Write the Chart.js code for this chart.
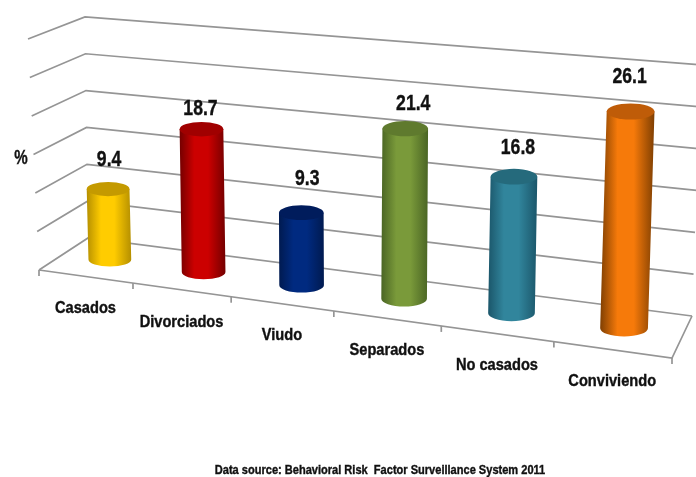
<!DOCTYPE html>
<html>
<head>
<meta charset="utf-8">
<title>Chart</title>
<script src="https://cdn.jsdelivr.net/npm/chart.js@4"></script>
<style>
  html, body { margin: 0; padding: 0; background: #fff; }
  canvas { display: block; }
</style>
</head>
<body>
<canvas id="chart" width="696" height="477"></canvas>
<script>
const categories = ["Casados", "Divorciados", "Viudo", "Separados", "No casados", "Conviviendo"];
const values = [9.4, 18.7, 9.3, 21.4, 16.8, 26.1];
const barColors = ["#ffcc00", "#cc0000", "#002a80", "#7a9a3a", "#31859c", "#f67a0a"];
const barEdges = ["#b58f00", "#740000", "#001a50", "#4a6524", "#1b566a", "#7f3f02"];
const barCaps = ["#c49a00", "#a00000", "#001c5c", "#5f7a2e", "#256a7c", "#bf5c08"];
const axisTitle = "%";
const sourceText = "Data source: Behavioral Risk  Factor Surveillance System 2011";

const gridColor = "#959595";
const textColor = "#111";
const blur = "blur(0.5px)";
const fontName = "'Liberation Sans', sans-serif";

// hand placed value labels, [dx, dy] from the top of the bar
const labelNudge = [[1, -29], [-1, -20], [6, -34], [8, -25], [4, -29], [-1, -35]];

// the fake 3D box: u across, d = 1 front of floor, d = 0 back wall
function persp(u) {
    return u / (u + 1.147 * (1 - u));
}

function project(u, d, value) {
    const p = persp(u);
    const baseX = (88 + 604 * p) * (1 - d) + (39 + 633 * p) * d;
    const baseY = (238 + 78 * p) * (1 - d) + (270 + 88 * p) * d;
    const rise = value * (7.37 + 1.0 * p + 0.33 * d);
    const lean = -0.0136 + 0.05 * p - 0.034 * d * (1 - p);
    return { x: baseX + lean * rise, y: baseY - rise, p: p };
}

function line(ctx, pts) {
    ctx.beginPath();
    pts.forEach((pt, i) => i ? ctx.lineTo(pt.x, pt.y) : ctx.moveTo(pt.x, pt.y));
    ctx.stroke();
}

// no narrow bold font here, so squeeze the normal one sideways
function narrowText(ctx, text, x, y, squeeze) {
    const w = ctx.measureText(text).width * squeeze;
    ctx.fillText(text, x, y, w);
    ctx.strokeText(text, x, y, w);
}

function drawWalls(chart) {
    const ctx = chart.ctx;
    const yScale = chart.scales.y;
    ctx.save();
    ctx.filter = blur;
    ctx.strokeStyle = gridColor;
    ctx.lineWidth = 1.7;

    yScale.ticks.forEach(t => {
        line(ctx, [project(0, 1, t.value), project(0, 0, t.value), project(1, 0, t.value)]);
    });

    // floor edges and tick marks
    line(ctx, [project(0, 1, 0), project(1, 1, 0), project(1, 0, 0)]);
    const n = categories.length;
    for (let i = 0; i <= n; i++) {
        const pt = project(i / n, 1, 0);
        line(ctx, [pt, { x: pt.x, y: pt.y + 6 }]);
    }
    ctx.restore();
}

function drawCylinder(chart, bar, i) {
    const ctx = chart.ctx;
    const area = chart.chartArea;
    const yScale = chart.scales.y;
    const u = (bar.x - area.left) / (area.right - area.left);
    const d = 0.48;
    const value = yScale.getValueForPixel(bar.y);
    const bottom = project(u, d, 0);
    const top = project(u, d, value * 0.985);
    const half = bar.width / 2 * (0.955 + 0.136 * bottom.p);
    const ry = 7 + 1.2 * bottom.p;

    const grad = ctx.createLinearGradient(Math.min(top.x, bottom.x) - half, 0, Math.max(top.x, bottom.x) + half, 0);
    grad.addColorStop(0, barEdges[i]);
    grad.addColorStop(0.32, barColors[i]);
    grad.addColorStop(0.62, barColors[i]);
    grad.addColorStop(1, barEdges[i]);

    ctx.fillStyle = grad;
    ctx.beginPath();
    ctx.moveTo(top.x - half, top.y);
    ctx.lineTo(top.x + half, top.y);
    ctx.lineTo(bottom.x + half, bottom.y);
    ctx.ellipse(bottom.x, bottom.y, half, ry, 0, 0, Math.PI);
    ctx.closePath();
    ctx.fill();

    ctx.fillStyle = barCaps[i];
    ctx.beginPath();
    ctx.ellipse(top.x, top.y, half, ry, 0, 0, Math.PI * 2);
    ctx.fill();
    return top;
}

const cylinders = {
    id: "cylinders",
    beforeDatasetsDraw(chart) {
        const ctx = chart.ctx;
        const area = chart.chartArea;
        drawWalls(chart);

        const bars = chart.getDatasetMeta(0).data;
        const tops = [];
        ctx.save();
        ctx.filter = "blur(0.3px)";
        bars.forEach((bar, i) => tops.push(drawCylinder(chart, bar, i)));
        ctx.restore();

        ctx.save();
        ctx.filter = blur;
        ctx.fillStyle = textColor;
        ctx.strokeStyle = textColor;
        ctx.lineWidth = 0.4;
        ctx.textAlign = "center";
        ctx.textBaseline = "middle";

        // value labels
        ctx.font = "bold 22px " + fontName;
        values.forEach((v, i) => {
            narrowText(ctx, v.toFixed(1), tops[i].x + labelNudge[i][0], tops[i].y + labelNudge[i][1], 0.8);
        });

        // category labels follow the front edge of the floor
        ctx.font = "bold 17px " + fontName;
        categories.forEach((c, i) => {
            const u = (chart.scales.x.getPixelForValue(i) - area.left) / (area.right - area.left);
            const pt = project(u, 1, 0);
            narrowText(ctx, c, pt.x, pt.y + 32, 0.86);
        });

        ctx.font = "bold 21px " + fontName;
        narrowText(ctx, axisTitle, 21, 158, 0.72);

        ctx.font = "bold 13px " + fontName;
        narrowText(ctx, sourceText, 380, 470, 0.85);
        ctx.restore();
        return false;
    }
};

new Chart(document.getElementById("chart"), {
    type: "bar",
    data: {
        labels: categories,
        datasets: [{
            label: "%",
            data: values,
            backgroundColor: barColors,
            barPercentage: 0.42,
            categoryPercentage: 1
        }]
    },
    options: {
        responsive: false,
        animation: false,
        layout: { padding: { left: 39, right: 24, top: 17, bottom: 239 } },
        plugins: { legend: { display: false }, tooltip: { enabled: false } },
        scales: {
            x: { display: false, offset: true },
            y: { display: false, min: 0, max: 30, ticks: { stepSize: 5 } }
        }
    },
    plugins: [cylinders]
});
</script>
</body>
</html>
